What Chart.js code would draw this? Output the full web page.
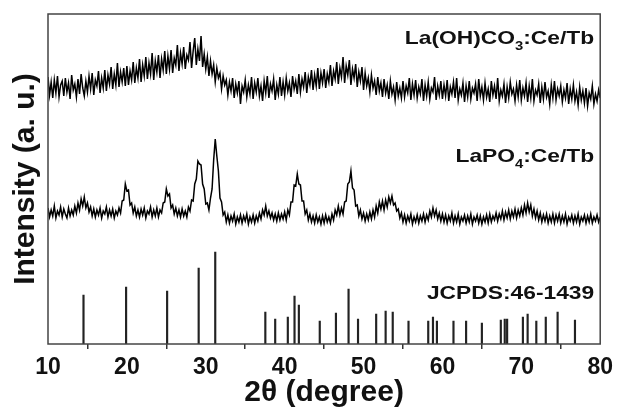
<!DOCTYPE html>
<html>
<head>
<meta charset="utf-8">
<title>XRD patterns</title>
<script src="https://cdn.jsdelivr.net/npm/chart.js@4.4.0/dist/chart.umd.min.js"></script>
<style>
  html, body { margin: 0; padding: 0; background: #fff; }
</style>
</head>
<body>
<canvas id="xrd" width="618" height="411"></canvas>
<script>
// scan grid: 10..80 deg 2theta, 0.2 deg per point
const START = 10;
const STEP = 0.2;

// La(OH)CO3:Ce/Tb trace (offset, arbitrary units)
const carbonate = [
  267, 249, 262, 246, 264, 251, 268, 247, 259, 263, 248, 266, 252, 261, 245, 269, 254, 260, 247, 265, 250, 270, 256, 248, 263,
  252, 268, 255, 271, 249, 264, 258, 273, 251, 266, 256, 274, 253, 269, 260, 277, 255, 270, 259, 281, 257, 272, 262, 276, 258,
  278, 259, 273, 264, 282, 261, 276, 266, 285, 262, 279, 268, 287, 265, 281, 270, 291, 264, 283, 272, 289, 266, 285, 274, 293,
  270, 288, 275, 294, 271, 286, 279, 299, 273, 291, 280, 297, 275, 289, 284, 302, 276, 293, 306, 279, 295, 283, 308, 277, 290,
  275, 287, 268, 283, 270, 279, 262, 276, 266, 271, 255, 268, 259, 264, 249, 262, 253, 266, 246, 260, 251, 263, 240, 258, 252,
  264, 247, 259, 250, 267, 245, 261, 252, 266, 248, 258, 243, 263, 251, 268, 246, 260, 253, 265, 244, 259, 250, 267, 248, 262,
  249, 266, 253, 261, 247, 268, 255, 263, 250, 270, 252, 265, 257, 272, 251, 267, 259, 274, 254, 269, 258, 276, 255, 271, 261,
  275, 256, 270, 262, 279, 258, 273, 265, 282, 260, 276, 267, 287, 261, 278, 269, 284, 259, 275, 266, 280, 257, 272, 263, 277,
  254, 271, 258, 266, 252, 269, 256, 263, 249, 267, 253, 261, 247, 265, 251, 259, 245, 263, 250, 257, 244, 262, 248, 256, 246,
  263, 247, 258, 251, 266, 244, 260, 249, 264, 246, 257, 250, 265, 243, 259, 248, 262, 245, 256, 252, 267, 244, 258, 249, 263,
  245, 259, 248, 264, 243, 257, 250, 262, 246, 266, 244, 255, 249, 261, 242, 258, 247, 263, 245, 256, 251, 260, 243, 265, 248,
  257, 244, 261, 247, 255, 242, 263, 249, 258, 245, 266, 243, 254, 248, 260, 241, 257, 246, 262, 250, 255, 243, 259, 247, 264,
  244, 256, 248, 261, 242, 258, 246, 265, 243, 254, 249, 260, 241, 257, 245, 262, 247, 253, 240, 259, 246, 263, 244, 255, 248,
  258, 242, 254, 246, 261, 240, 255, 245, 259, 243, 252, 239, 257, 244, 253, 241, 256, 238, 251, 245, 258, 240, 250, 243, 254,
  246
];

// LaPO4:Ce/Tb trace
const phosphate = [
  136, 127, 134, 128, 138, 126, 133, 129, 137, 127, 135, 130, 126, 136, 128, 134, 129, 138, 131, 141, 134, 145, 138, 147, 136,
  141, 132, 137, 128, 135, 127, 134, 129, 136, 126, 133, 130, 137, 127, 134, 128, 135, 126, 133, 129, 136, 131, 143, 144, 160,
  153, 154, 139, 141, 131, 137, 128, 134, 127, 135, 129, 136, 126, 133, 130, 137, 127, 134, 128, 136, 127, 134, 131, 141, 142,
  155, 148, 150, 136, 139, 130, 136, 128, 134, 127, 135, 128, 133, 127, 137, 133, 144, 143, 160, 165, 183, 180, 179, 160, 155,
  140, 141, 134, 146, 155, 184, 205, 188, 173, 146, 142, 129, 132, 122, 129, 121, 128, 123, 130, 120, 127, 122, 129, 121, 128,
  123, 130, 120, 127, 122, 129, 121, 128, 123, 131, 125, 134, 129, 138, 128, 133, 126, 131, 124, 130, 123, 131, 124, 130, 125,
  132, 124, 134, 129, 142, 142, 159, 158, 170, 160, 159, 143, 143, 130, 134, 124, 130, 122, 128, 121, 129, 122, 127, 120, 128,
  121, 129, 122, 127, 121, 130, 124, 134, 129, 138, 129, 136, 130, 142, 143, 160, 162, 173, 156, 154, 138, 139, 128, 134, 125,
  131, 123, 130, 124, 132, 125, 134, 127, 138, 131, 142, 135, 143, 134, 144, 137, 147, 141, 148, 139, 141, 133, 135, 126, 131,
  122, 129, 121, 128, 123, 130, 120, 127, 122, 129, 121, 128, 123, 130, 122, 129, 124, 133, 127, 136, 128, 134, 125, 131, 123,
  130, 122, 129, 121, 128, 123, 131, 121, 128, 122, 130, 120, 127, 123, 129, 121, 128, 122, 130, 120, 127, 123, 129, 121, 128,
  120, 127, 122, 129, 121, 130, 122, 128, 124, 131, 123, 130, 125, 133, 124, 132, 126, 134, 125, 133, 127, 135, 126, 134, 128,
  136, 129, 139, 131, 141, 132, 139, 128, 135, 126, 133, 124, 131, 122, 129, 123, 130, 121, 128, 122, 130, 121, 129, 123, 130,
  121, 128, 122, 130, 120, 127, 123, 129, 121, 128, 122, 130, 120, 127, 123, 129, 121, 128, 122, 130, 121, 127, 123, 129, 122,
  127
];

// JCPDS 46-1439 reference lines
const stickPos = [14.5, 19.9, 25.1, 29.1, 31.2, 37.55, 38.8, 40.4, 41.25, 41.8, 44.45, 46.5, 48.1,
  49.3, 51.6, 52.8, 53.7, 55.7, 58.2, 58.8, 59.3, 61.4, 63.0, 65.0, 67.4, 67.9, 68.2, 70.2, 70.8,
  71.9, 73.1, 74.6, 76.8];
const stickInt = [49, 57, 53, 76, 92, 32, 25, 27, 48, 39, 23, 31, 55,
  25, 30, 33, 32, 23, 23, 27, 23, 23, 23, 21, 24, 25, 25, 27, 30,
  23, 27, 32, 24];

const FONT = '"Liberation Sans", Arial, sans-serif';

const toPoints = arr => arr.map((v, i) => ({ x: START + i * STEP, y: v }));

// labels on the right, drawn a bit wide like the original figure
const labels = [
  { parts: [['La(OH)CO', 0], ['3', 1], [':Ce/Tb', 0]], y: 39 },
  { parts: [['LaPO', 0], ['4', 1], [':Ce/Tb', 0]], y: 157 },
  { parts: [['JCPDS:46-1439', 0]], y: 294 }
];

const decor = {
  id: 'decor',
  afterDraw(chart) {
    const { ctx, chartArea: a } = chart;
    ctx.save();
    ctx.strokeStyle = '#444';
    ctx.lineWidth = 1.5;
    ctx.strokeRect(a.left, a.top, a.right - a.left, a.bottom - a.top);

    const size = 19, sx = 1.2;
    ctx.fillStyle = '#111';
    ctx.textBaseline = 'middle';
    labels.forEach(l => {
      let w = 0;
      l.parts.forEach(([t, sub]) => {
        ctx.font = 'bold ' + (sub ? size * 0.65 : size) + 'px ' + FONT;
        w += ctx.measureText(t).width;
      });
      ctx.save();
      ctx.translate(a.right - 6, l.y);
      ctx.scale(sx, 1);
      let x = -w;
      l.parts.forEach(([t, sub]) => {
        ctx.font = 'bold ' + (sub ? size * 0.65 : size) + 'px ' + FONT;
        ctx.fillText(t, x, sub ? size * 0.38 : 0);
        x += ctx.measureText(t).width;
      });
      ctx.restore();
    });
    ctx.restore();
  }
};

new Chart(document.getElementById('xrd'), {
  type: 'line',
  data: {
    datasets: [
      {
        data: toPoints(carbonate),
        borderColor: '#000', borderWidth: 1.5, pointRadius: 0, tension: 0
      },
      {
        data: toPoints(phosphate),
        borderColor: '#000', borderWidth: 1.5, pointRadius: 0, tension: 0
      },
      {
        type: 'bar',
        data: stickPos.map((p, i) => ({ x: p, y: stickInt[i] })),
        backgroundColor: '#222', barThickness: 1.5
      }
    ]
  },
  options: {
    responsive: false,
    animation: false,
    events: [],
    layout: { padding: { top: 14, right: 10, bottom: 0, left: 0 } },
    plugins: { legend: { display: false }, tooltip: { enabled: false } },
    scales: {
      x: {
        type: 'linear', min: 10, max: 80, offset: false,
        ticks: { stepSize: 10, color: '#111', padding: 5, maxRotation: 0, autoSkip: false,
          font: { family: FONT, size: 23, weight: 'bold' } },
        grid: { drawOnChartArea: false, drawTicks: true, tickLength: 5, color: '#333', lineWidth: 1.5 },
        border: { display: false },
        title: { display: true, text: '2θ (degree)', color: '#111', padding: { top: 0, bottom: 0 },
          font: { family: FONT, size: 30, weight: 'bold' } },
        afterFit: s => { s.height = 67; }
      },
      y: {
        min: 0, max: 330,
        ticks: { display: false },
        grid: { display: false },
        border: { display: false },
        title: { display: true, text: 'Intensity (a. u.)', color: '#111', padding: { top: 8, bottom: 0 },
          font: { family: FONT, size: 30, weight: 'bold' } },
        afterFit: s => { s.width = 48; }
      }
    }
  },
  plugins: [decor]
});
</script>
</body>
</html>
